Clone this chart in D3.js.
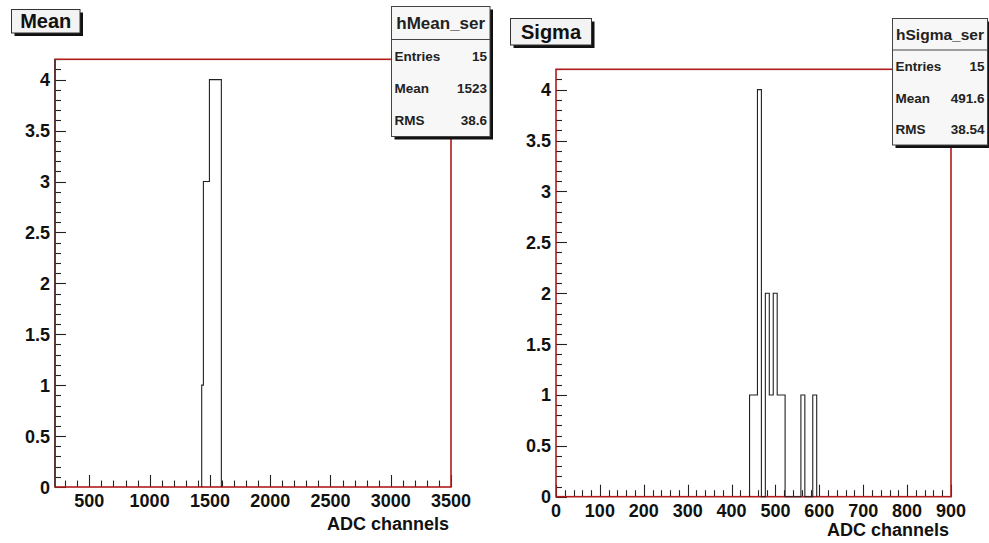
<!DOCTYPE html>
<html><head><meta charset="utf-8">
<script src="https://cdn.jsdelivr.net/npm/d3@7"></script>
<style>
html,body{margin:0;padding:0;background:#fff;}
svg{display:block;font-family:"Liberation Sans",Arial,Helvetica,sans-serif;}
</style></head>
<body>
<svg id="c" width="989" height="543"></svg>
<script>
// ---------- data ----------
const meanTitle = "Mean";
const meanHistName = "hMean_ser";
const meanXDomain = [215, 3500];
const meanEdges = [1432, 1446, 1496, 1546, 1595];
const meanCounts = [1, 3, 4, 4];
const meanXTicks = [500, 1000, 1500, 2000, 2500, 3000, 3500];
const meanStatsValues = ["15", "1523", "38.6"];

const sigmaTitle = "Sigma";
const sigmaHistName = "hSigma_ser";
const sigmaXDomain = [0, 900];
const sigmaEdges = [441, 450, 459, 468, 477, 486, 495, 504, 513, 522, 531, 540, 549, 558, 567, 576, 585, 594];
const sigmaCounts = [1, 1, 4, 0, 2, 1, 2, 1, 1, 0, 0, 0, 0, 1, 0, 0, 1];
const sigmaXTicks = [0, 100, 200, 300, 400, 500, 600, 700, 800, 900];
const sigmaStatsValues = ["15", "491.6", "38.54"];

const yDomain = [0, 4.2];
const yTicks = [0, 0.5, 1, 1.5, 2, 2.5, 3, 3.5, 4];
const statsLabels = ["Entries", "Mean", "RMS"];
const xAxisTitle = "ADC channels";

// ---------- drawing ----------
const svg = d3.select("#c");
const frameColor = "#b01c1c";
const tickColor = "#222";

function panel(cfg) {
  const g = svg.append("g");
  const x = d3.scaleLinear().domain(cfg.xDomain).range([cfg.left, cfg.right]);
  const y = d3.scaleLinear().domain(yDomain).range([cfg.bottom, cfg.top]);

  g.append("rect").attr("x", cfg.left).attr("y", cfg.top)
    .attr("width", cfg.right - cfg.left).attr("height", cfg.bottom - cfg.top)
    .attr("fill", "#fff").attr("stroke", "none");

  // y ticks
  const yMinor = d3.range(0, 43).map(i => i / 10).filter(v => v <= yDomain[1] + 1e-9);
  const isMajorY = v => yTicks.some(t => Math.abs(t - v) < 1e-9);
  g.append("g").selectAll("line").data(yMinor).join("line")
    .attr("x1", cfg.left).attr("x2", d => cfg.left + (isMajorY(d) ? 11 : 6))
    .attr("y1", d => Math.round(y(d)) + 0.5).attr("y2", d => Math.round(y(d)) + 0.5)
    .attr("stroke", tickColor).attr("stroke-width", 1.1);
  g.append("g").selectAll("text").data(yTicks).join("text")
    .attr("x", cfg.left - 5).attr("y", d => y(d) + 6.5)
    .attr("text-anchor", "end").attr("font-size", 18).attr("font-weight", "bold").attr("fill", "#111")
    .text(d => String(d));

  // x ticks
  const xMinor = d3.range(Math.ceil(cfg.xDomain[0] / cfg.minorStep) * cfg.minorStep, cfg.xDomain[1] + 1e-6, cfg.minorStep);
  const isMajorX = v => cfg.xTicks.some(t => Math.abs(t - v) < 1e-6);
  g.append("g").selectAll("line").data(xMinor).join("line")
    .attr("x1", d => Math.round(x(d)) + 0.5).attr("x2", d => Math.round(x(d)) + 0.5)
    .attr("y1", cfg.bottom).attr("y2", d => cfg.bottom - (isMajorX(d) ? 12 : 6.5))
    .attr("stroke", tickColor).attr("stroke-width", 1.1);
  g.append("g").selectAll("text").data(cfg.xTicks).join("text")
    .attr("x", d => x(d)).attr("y", cfg.bottom + 20)
    .attr("text-anchor", "middle").attr("font-size", 18).attr("font-weight", "bold").attr("fill", "#111")
    .text(d => String(d));

  // frame
  g.append("rect").attr("x", cfg.left).attr("y", cfg.top)
    .attr("width", cfg.right - cfg.left).attr("height", cfg.bottom - cfg.top)
    .attr("fill", "none").attr("stroke", frameColor).attr("stroke-width", 1.6);
  if (cfg.leftAxisDark) {
    g.append("line").attr("x1", cfg.left).attr("x2", cfg.left).attr("y1", cfg.top).attr("y2", cfg.bottom)
      .attr("stroke", "#333").attr("stroke-width", 1.4);
  }

  // histogram outline (step)
  const pts = [[cfg.edges[0], 0]];
  cfg.counts.forEach((c, i) => pts.push([cfg.edges[i], c]));
  pts.push([cfg.edges[cfg.edges.length - 1], 0]);
  const line = d3.line().x(d => x(d[0])).y(d => y(d[1])).curve(d3.curveStepAfter);
  g.append("path").attr("d", line(pts)).attr("fill", "none")
    .attr("stroke", "#222").attr("stroke-width", 1.1);

  // x axis title
  g.append("text").attr("x", cfg.right - 2).attr("y", cfg.axisTitleY)
    .attr("text-anchor", "end").attr("font-size", 18).attr("font-weight", "bold").attr("fill", "#111")
    .text(xAxisTitle);

  // title box
  const tb = cfg.titleBox;
  g.append("rect").attr("x", tb.x + 3).attr("y", tb.y + 3).attr("width", tb.w).attr("height", tb.h).attr("fill", "#111");
  g.append("rect").attr("x", tb.x).attr("y", tb.y).attr("width", tb.w).attr("height", tb.h)
    .attr("fill", "#f3f3f3").attr("stroke", "#333").attr("stroke-width", 1);
  g.append("text").attr("x", tb.x + tb.w / 2).attr("y", tb.y + tb.h / 2 + 7)
    .attr("text-anchor", "middle").attr("font-size", 20).attr("font-weight", "bold").attr("fill", "#111")
    .text(cfg.title);

  // stats box
  const sb = cfg.statsBox;
  g.append("rect").attr("x", sb.x + 3).attr("y", sb.y + 3).attr("width", sb.w).attr("height", sb.h).attr("fill", "#111");
  g.append("rect").attr("x", sb.x).attr("y", sb.y).attr("width", sb.w).attr("height", sb.h)
    .attr("fill", "#f7f7f7").attr("stroke", "#444").attr("stroke-width", 1);
  g.append("line").attr("x1", sb.x).attr("x2", sb.x + sb.w).attr("y1", sb.div).attr("y2", sb.div)
    .attr("stroke", "#444").attr("stroke-width", 1);
  g.append("text").attr("x", sb.x + sb.w / 2).attr("y", (sb.y + sb.div) / 2 + 6)
    .attr("text-anchor", "middle").attr("font-size", sb.titleSize).attr("font-weight", "bold").attr("fill", "#222")
    .text(cfg.histName);
  const rowH = (sb.y + sb.h - sb.div) / 3;
  statsLabels.forEach((lab, i) => {
    const cy = sb.div + rowH * (i + 0.5) + 5;
    g.append("text").attr("x", sb.x + 3).attr("y", cy).attr("font-size", 13.5).attr("font-weight", "bold")
      .attr("fill", "#222").text(lab);
    g.append("text").attr("x", sb.x + sb.w - 3).attr("y", cy).attr("text-anchor", "end")
      .attr("font-size", 13.5).attr("font-weight", "bold").attr("fill", "#222").text(cfg.statsValues[i]);
  });
}

panel({
  left: 55, right: 451, top: 59.3, bottom: 487,
  xDomain: meanXDomain, xTicks: meanXTicks, minorStep: 100,
  edges: meanEdges, counts: meanCounts,
  title: meanTitle, histName: meanHistName, statsValues: meanStatsValues,
  titleBox: {x: 11.5, y: 9.5, w: 68.5, h: 23.5},
  statsBox: {x: 391.5, y: 6.5, w: 98.5, h: 130, div: 39.5, titleSize: 17},
  axisTitleY: 530, leftAxisDark: true
});
panel({
  left: 556, right: 951, top: 69.3, bottom: 496.7,
  xDomain: sigmaXDomain, xTicks: sigmaXTicks, minorStep: 20,
  edges: sigmaEdges, counts: sigmaCounts,
  title: sigmaTitle, histName: sigmaHistName, statsValues: sigmaStatsValues,
  titleBox: {x: 510.5, y: 18.5, w: 81, h: 26.5},
  statsBox: {x: 892.5, y: 18.5, w: 95, h: 126.5, div: 50, titleSize: 15.5},
  axisTitleY: 536, leftAxisDark: false
});
</script>
</body></html>
